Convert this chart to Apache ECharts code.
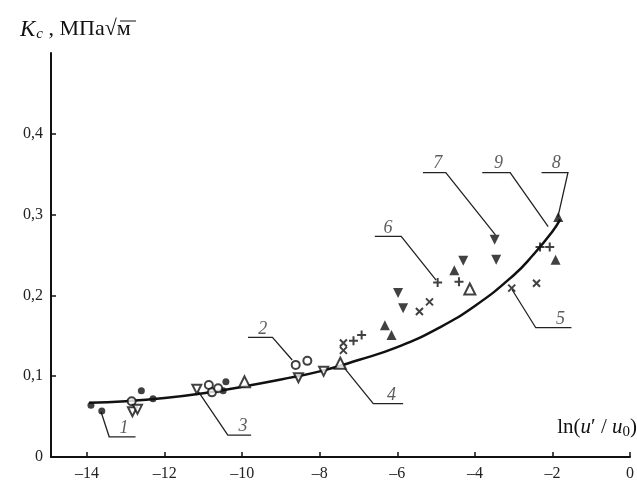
<!DOCTYPE html>
<html lang="ru">
<head>
    <meta charset="UTF-8">
    <title>Kc от ln(u'/u0)</title>
    <script src="https://cdn.jsdelivr.net/npm/echarts@6/dist/echarts.min.js"></script>
    <style>
        html, body {margin: 0; padding: 0; background: #fff;}
        #chart {width: 637px; height: 482px;}
    </style>
</head>
<body>
<div id="chart"></div>
<script>
    // кривая 9
    var curveX = [-13.95, -13, -12, -11, -10, -9, -8, -7, -6, -5, -4, -3, -2.5, -2, -1.8];
    var curveY = [0.067, 0.069, 0.073, 0.079, 0.087, 0.096, 0.106, 0.12, 0.136, 0.158, 0.187, 0.225, 0.25, 0.279, 0.294];

    // точки по сериям 1..8
    var pts1 = [[-13.9, 0.064], [-13.62, 0.057], [-12.6, 0.082], [-12.3, 0.072], [-10.42, 0.093], [-10.49, 0.082]];
    var pts2 = [[-12.85, 0.069], [-10.86, 0.089], [-10.78, 0.080], [-10.62, 0.085], [-8.62, 0.114], [-8.32, 0.119]];
    var pts3 = [[-12.83, 0.056], [-12.7, 0.059], [-11.17, 0.084], [-8.55, 0.098], [-7.9, 0.106]];
    var pts4 = [[-9.94, 0.093], [-7.47, 0.116], [-4.13, 0.208]];
    var pts5 = [[-7.39, 0.141], [-7.39, 0.132], [-5.43, 0.180], [-5.17, 0.192], [-3.05, 0.209], [-2.41, 0.215]];
    var pts6 = [[-7.13, 0.144], [-6.92, 0.151], [-4.96, 0.216], [-4.41, 0.217], [-2.32, 0.260], [-2.07, 0.260]];
    var pts7 = [[-5.98, 0.203], [-5.85, 0.184], [-4.3, 0.243], [-3.49, 0.269], [-3.45, 0.244]];
    var pts8 = [[-6.32, 0.163], [-6.15, 0.151], [-4.53, 0.231], [-1.92, 0.244], [-1.85, 0.297]];

    // подписи кривых и выноски
    var tagNames = ['1', '2', '3', '4', '5', '6', '7', '8', '9'];
    var tagPos = [[-13.05, 0.035], [-9.47, 0.158], [-9.98, 0.038], [-6.15, 0.077], [-1.79, 0.171],
        [-6.24, 0.283], [-4.96, 0.364], [-1.9, 0.364], [-3.39, 0.364]];
    var leaders = [
        [[-13.64, 0.056], [-13.43, 0.025], [-12.75, 0.025]],
        [[-8.71, 0.120], [-9.22, 0.148], [-9.85, 0.148]],
        [[-11.13, 0.081], [-10.37, 0.027], [-9.77, 0.027]],
        [[-7.43, 0.114], [-6.62, 0.066], [-5.85, 0.066]],
        [[-3.04, 0.207], [-2.43, 0.160], [-1.51, 0.160]],
        [[-5.0, 0.219], [-5.9, 0.273], [-6.58, 0.273]],
        [[-3.47, 0.275], [-4.75, 0.352], [-5.34, 0.352]],
        [[-1.86, 0.297], [-1.6, 0.352], [-2.28, 0.352]],
        [[-2.11, 0.285], [-3.09, 0.352], [-3.81, 0.352]]
    ];

    var xTicks = [-14, -12, -10, -8, -6, -4, -2, 0];
    var yLabels = [0, 0.1, 0.2, 0.3, 0.4];

    var serif = '"Liberation Serif", "DejaVu Serif", serif';
    var crossPath = 'path://M0,0L10,10M10,0L0,10';
    var plusPath = 'path://M5,0L5,10M0,5L10,5';

    function pts(data, symbol, size, rotate, style) {
        return {
            type: 'scatter', data: data, symbol: symbol, symbolSize: size,
            symbolRotate: rotate || 0, silent: true, z: 4,
            itemStyle: style || {color: '#111'}
        };
    }

    var chart = echarts.init(document.getElementById('chart'));

    var curveData = [];
    for (var i = 0; i < curveX.length; i++) curveData.push([curveX[i], curveY[i]]);

    var tagData = [];
    for (var k = 0; k < tagNames.length; k++) tagData.push({name: tagNames[k], value: tagPos[k]});

    var leaderData = [];
    for (var j = 0; j < leaders.length; j++) leaderData.push({coords: leaders[j]});

    var emptyStyle = {color: '#111', borderWidth: 1.5};
    var strokeStyle = {color: 'rgba(0,0,0,0)', borderColor: '#111', borderWidth: 2};

    var option = {
        backgroundColor: '#fff',
        animation: false,
        grid: {left: 51, right: 1, top: 53, bottom: 25},
        xAxis: {
            type: 'value', min: -14.93, max: 0,
            axisLine: {onZero: false, lineStyle: {color: '#111', width: 2}},
            axisTick: {inside: true, length: 5, customValues: xTicks, lineStyle: {color: '#111', width: 1.5}},
            axisLabel: {
                customValues: xTicks, margin: 9, color: '#222', fontFamily: serif, fontSize: 16,
                formatter: function (v) { return v < 0 ? '\u2013' + Math.abs(v) : String(v); }
            },
            splitLine: {show: false}
        },
        yAxis: {
            type: 'value', min: 0, max: 0.5,
            axisLine: {show: true, onZero: false, lineStyle: {color: '#111', width: 2}},
            axisTick: {inside: true, length: 5, customValues: [0.1, 0.2, 0.3, 0.4], lineStyle: {color: '#111', width: 1.5}},
            axisLabel: {
                customValues: yLabels, margin: 8, color: '#222', fontFamily: serif, fontSize: 16,
                formatter: function (v) { return v === 0 ? '0' : v.toFixed(1).replace('.', ','); }
            },
            splitLine: {show: false}
        },
        graphic: [
            {
                type: 'text', left: 20, top: 18,
                style: {
                    text: '{k|K}{c|c}{t| , МПа√м}',
                    rich: {
                        k: {fontFamily: serif, fontStyle: 'italic', fontSize: 23, fill: '#111'},
                        c: {fontFamily: serif, fontStyle: 'italic', fontSize: 15, fill: '#111', verticalAlign: 'bottom', padding: [9, 0, 0, 1]},
                        t: {fontFamily: serif, fontSize: 22, fill: '#111'}
                    }
                }
            },
            {
                type: 'line', shape: {x1: 120, y1: 21, x2: 136, y2: 21},
                style: {stroke: '#111', lineWidth: 1}
            },
            {
                type: 'text', right: 0, top: 417,
                style: {
                    text: '{t|ln(}{i|u}{t|\u2032 / }{i|u}{s|0}{t|)}',
                    rich: {
                        t: {fontFamily: serif, fontSize: 21, fill: '#111'},
                        i: {fontFamily: serif, fontStyle: 'italic', fontSize: 21, fill: '#111'},
                        s: {fontFamily: serif, fontSize: 15, fill: '#111', padding: [10, 0, 0, 0]}
                    }
                }
            }
        ],
        series: [
            {
                type: 'line', data: curveData, smooth: true, showSymbol: false, silent: true, z: 3,
                lineStyle: {color: '#111', width: 2.5}
            },
            {
                type: 'lines', coordinateSystem: 'cartesian2d', polyline: true, silent: true, z: 2,
                data: leaderData, lineStyle: {color: '#222', width: 1.3, opacity: 1}
            },
            {
                type: 'scatter', data: tagData, symbolSize: 0, silent: true, z: 5,
                label: {
                    show: true, formatter: '{b}', position: 'inside', color: '#333',
                    fontFamily: serif, fontStyle: 'italic', fontSize: 18
                }
            },
            pts(pts1, 'circle', 7),
            pts(pts2, 'emptyCircle', 8, 0, emptyStyle),
            pts(pts3, 'emptyTriangle', 9, 180, emptyStyle),
            pts(pts4, 'emptyTriangle', 11, 0, emptyStyle),
            pts(pts5, crossPath, 7, 0, strokeStyle),
            pts(pts6, plusPath, 9, 0, strokeStyle),
            pts(pts7, 'triangle', 10, 180),
            pts(pts8, 'triangle', 10, 0)
        ]
    };

    chart.setOption(option);
</script>
</body>
</html>
